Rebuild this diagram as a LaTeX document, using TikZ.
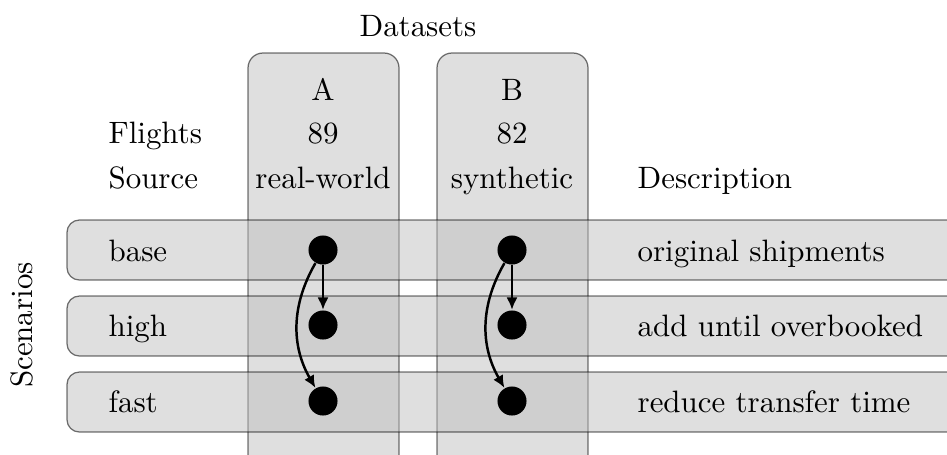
\documentclass[tikz,border=0pt]{standalone}
\usetikzlibrary{arrows.meta}
\begin{document}
\begin{tikzpicture}[x=0.1136mm, y=-0.1136mm,
  band/.style={draw=black, fill=black!25, draw opacity=0.55, fill opacity=0.5},
  dot/.style={circle, fill=black, inner sep=0pt, minimum size=3.3mm},
  lbl/.style={anchor=base, inner sep=0pt},
  lft/.style={anchor=base west, inner sep=0pt},
  flow/.style={-{Latex[length=4pt,width=3.6pt]}, thick}
]
  \useasboundingbox (0,0) rectangle (947,454);
  \clip (0,0) rectangle (947,454);

  % dataset columns
  \draw[band, rounded corners=1.7mm] (248,490) rectangle (399,53);
  \draw[band, rounded corners=1.7mm] (437,490) rectangle (588,53);

  % scenario rows
  \draw[band, rounded corners=1.4mm] (67,220) rectangle (990,280);
  \draw[band, rounded corners=1.4mm] (67,296) rectangle (990,356);
  \draw[band, rounded corners=1.4mm] (67,372) rectangle (990,432);

  \node[lbl] (title) at (418,36) {Datasets};
  \node[rotate=90] (scen) at (22,325) {Scenarios};

  \node[lbl] (nameA) at (323,100) {A};
  \node[lbl] (numA)  at (323,143) {89};
  \node[lbl] (srcA)  at (323,188) {real-world};
  \node[lbl] (nameB) at (512,100) {B};
  \node[lbl] (numB)  at (512,143) {82};
  \node[lbl] (srcB)  at (512,188) {synthetic};

  \node[lft] (flights) at (108,143) {Flights};
  \node[lft] (source)  at (108,188) {Source};
  \node[lft] (desc)    at (637,188) {Description};

  \node[lft] (base) at (108,261) {base};
  \node[lft] (high) at (108,336) {high};
  \node[lft] (fast) at (108,412) {fast};
  \node[lft] (dbase) at (637,261) {original shipments};
  \node[lft] (dhigh) at (637,336) {add until overbooked};
  \node[lft] (dfast) at (637,412) {reduce transfer time};

  \node[dot] (a1) at (323,250) {};
  \node[dot] (a2) at (323,325) {};
  \node[dot] (a3) at (323,401) {};
  \node[dot] (b1) at (512,250) {};
  \node[dot] (b2) at (512,325) {};
  \node[dot] (b3) at (512,401) {};

  \draw[flow] (a1) -- (a2);
  \draw[flow] (a1) to[bend right=30] (a3);
  \draw[flow] (b1) -- (b2);
  \draw[flow] (b1) to[bend right=30] (b3);
\end{tikzpicture}
\end{document}
